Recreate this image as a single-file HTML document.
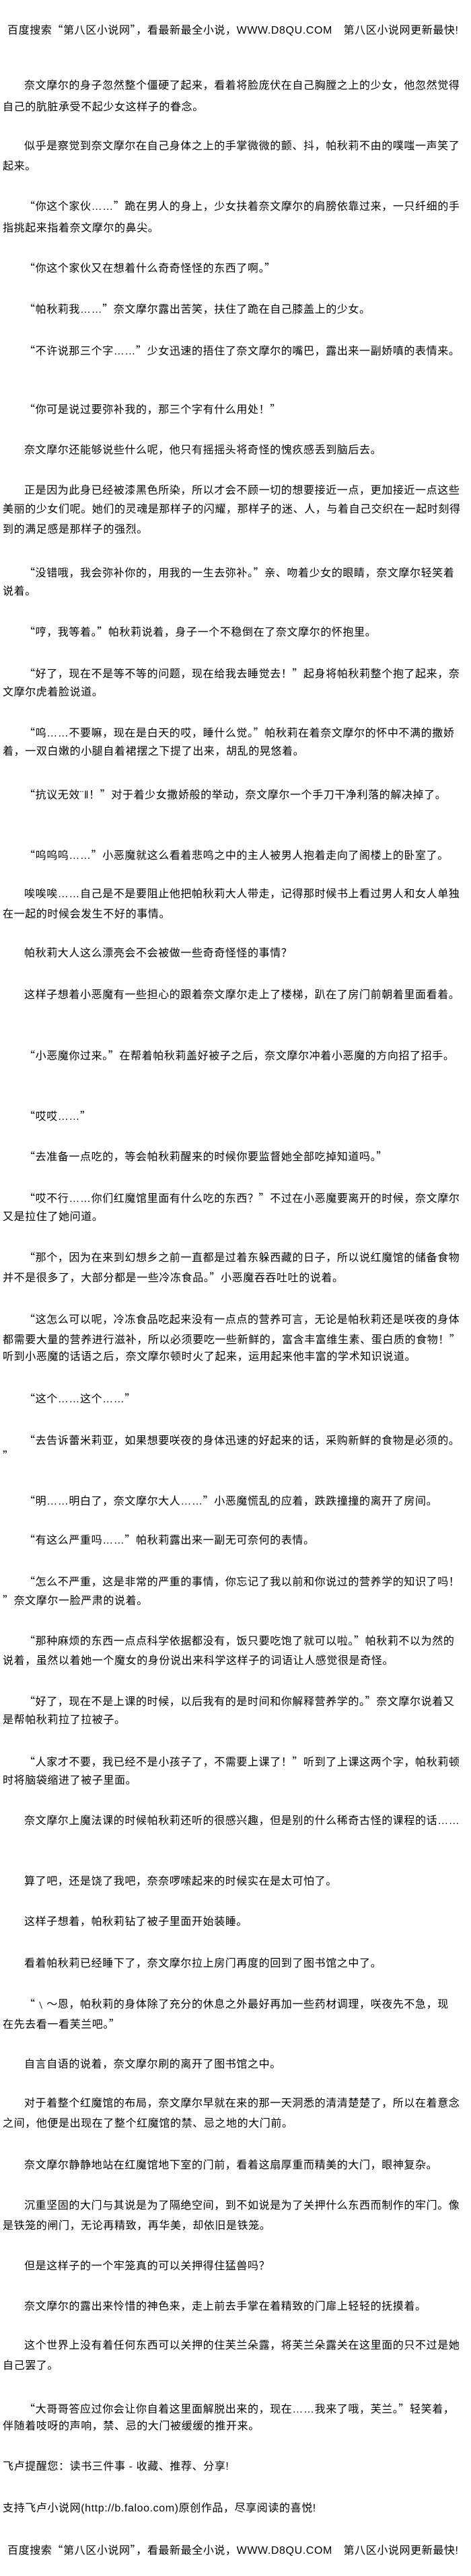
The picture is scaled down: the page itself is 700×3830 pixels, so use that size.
<!DOCTYPE html>
<html><head><meta charset="utf-8">
<style>
html,body{margin:0;padding:0;background:#fff;}
body{width:700px;height:3830px;position:relative;overflow:hidden;
font-family:"Liberation Sans","Noto Sans CJK SC","WenQuanYi Zen Hei",sans-serif;
font-size:16px;letter-spacing:0.6px;color:#000;}
div.l{position:absolute;white-space:nowrap;line-height:20px;height:20px;}
i{font-style:normal;font-family:"Noto Sans CJK SC",sans-serif;}
</style></head><body>
<div class="l" style="top:33px;left:11px">百度搜索<i>“</i>第八区小说网<i>”</i>，看最新最全小说，WWW.D8QU.COM　第八区小说网更新最快!</div>
<div class="l" style="top:118px;left:36px">奈文摩尔的身子忽然整个僵硬了起来，看着将脸庞伏在自己胸膛之上的少女，他忽然觉得</div>
<div class="l" style="top:150px;left:4px">自己的肮脏承受不起少女这样子的眷念。</div>
<div class="l" style="top:208px;left:36px">似乎是察觉到奈文摩尔在自己身体之上的手掌微微的颤、抖，帕秋莉不由的噗嗤一声笑了</div>
<div class="l" style="top:238px;left:4px">起来。</div>
<div class="l" style="top:295px;left:36px"><i>“</i>你这个家伙……<i>”</i>跪在男人的身上，少女扶着奈文摩尔的肩膀依靠过来，一只纤细的手</div>
<div class="l" style="top:330px;left:4px">指挑起来指着奈文摩尔的鼻尖。</div>
<div class="l" style="top:387px;left:36px"><i>“</i>你这个家伙又在想着什么奇奇怪怪的东西了啊。<i>”</i></div>
<div class="l" style="top:448px;left:36px"><i>“</i>帕秋莉我……<i>”</i>奈文摩尔露出苦笑，扶住了跪在自己膝盖上的少女。</div>
<div class="l" style="top:510px;left:36px"><i>“</i>不许说那三个字……<i>”</i>少女迅速的捂住了奈文摩尔的嘴巴，露出来一副娇嗔的表情来。</div>
<div class="l" style="top:597px;left:36px"><i>“</i>你可是说过要弥补我的，那三个字有什么用处！<i>”</i></div>
<div class="l" style="top:660px;left:36px">奈文摩尔还能够说些什么呢，他只有摇摇头将奇怪的愧疚感丢到脑后去。</div>
<div class="l" style="top:720px;left:36px">正是因为此身已经被漆黑色所染，所以才会不顾一切的想要接近一点，更加接近一点这些</div>
<div class="l" style="top:748px;left:4px">美丽的少女们呢。她们的灵魂是那样子的闪耀，那样子的迷、人，与着自己交织在一起时刻得</div>
<div class="l" style="top:778px;left:4px">到的满足感是那样子的强烈。</div>
<div class="l" style="top:840px;left:36px"><i>“</i>没错哦，我会弥补你的，用我的一生去弥补。<i>”</i>亲、吻着少女的眼睛，奈文摩尔轻笑着</div>
<div class="l" style="top:870px;left:4px">说着。</div>
<div class="l" style="top:928px;left:36px"><i>“</i>哼，我等着。<i>”</i>帕秋莉说着，身子一个不稳倒在了奈文摩尔的怀抱里。</div>
<div class="l" style="top:990px;left:36px"><i>“</i>好了，现在不是等不等的问题，现在给我去睡觉去！<i>”</i>起身将帕秋莉整个抱了起来，奈</div>
<div class="l" style="top:1020px;left:4px">文摩尔虎着脸说道。</div>
<div class="l" style="top:1078px;left:36px"><i>“</i>呜……不要嘛，现在是白天的哎，睡什么觉。<i>”</i>帕秋莉在着奈文摩尔的怀中不满的撒娇</div>
<div class="l" style="top:1108px;left:4px">着，一双白嫩的小腿自着裙摆之下提了出来，胡乱的晃悠着。</div>
<div class="l" style="top:1170px;left:36px"><i>“</i>抗议无效¨‖！<i>”</i>对于着少女撒娇般的举动，奈文摩尔一个手刀干净利落的解决掉了。</div>
<div class="l" style="top:1260px;left:36px"><i>“</i>呜呜呜……<i>”</i>小恶魔就这么看着悲鸣之中的主人被男人抱着走向了阁楼上的卧室了。</div>
<div class="l" style="top:1320px;left:36px">唉唉唉……自己是不是要阻止他把帕秋莉大人带走，记得那时候书上看过男人和女人单独</div>
<div class="l" style="top:1350px;left:4px">在一起的时候会发生不好的事情。</div>
<div class="l" style="top:1408px;left:36px">帕秋莉大人这么漂亮会不会被做一些奇奇怪怪的事情？</div>
<div class="l" style="top:1470px;left:36px">这样子想着小恶魔有一些担心的跟着奈文摩尔走上了楼梯，趴在了房门前朝着里面看着。</div>
<div class="l" style="top:1558px;left:36px"><i>“</i>小恶魔你过来。<i>”</i>在帮着帕秋莉盖好被子之后，奈文摩尔冲着小恶魔的方向招了招手。</div>
<div class="l" style="top:1648px;left:36px"><i>“</i>哎哎……<i>”</i></div>
<div class="l" style="top:1708px;left:36px"><i>“</i>去准备一点吃的，等会帕秋莉醒来的时候你要监督她全部吃掉知道吗。<i>”</i></div>
<div class="l" style="top:1770px;left:36px"><i>“</i>哎不行……你们红魔馆里面有什么吃的东西？<i>”</i>不过在小恶魔要离开的时候，奈文摩尔</div>
<div class="l" style="top:1800px;left:4px">又是拉住了她问道。</div>
<div class="l" style="top:1858px;left:36px"><i>“</i>那个，因为在来到幻想乡之前一直都是过着东躲西藏的日子，所以说红魔馆的储备食物</div>
<div class="l" style="top:1888px;left:4px">并不是很多了，大部分都是一些冷冻食品。<i>”</i>小恶魔吞吞吐吐的说着。</div>
<div class="l" style="top:1950px;left:36px"><i>“</i>这怎么可以呢，冷冻食品吃起来没有一点点的营养可言，无论是帕秋莉还是咲夜的身体</div>
<div class="l" style="top:1980px;left:4px">都需要大量的营养进行滋补，所以必须要吃一些新鲜的，富含丰富维生素、蛋白质的食物！<i>”</i></div>
<div class="l" style="top:2008px;left:4px">听到小恶魔的话语之后，奈文摩尔顿时火了起来，运用起来他丰富的学术知识说道。</div>
<div class="l" style="top:2068px;left:36px"><i>“</i>这个……这个……<i>”</i></div>
<div class="l" style="top:2130px;left:36px"><i>“</i>去告诉蕾米莉亚，如果想要咲夜的身体迅速的好起来的话，采购新鲜的食物是必须的。</div>
<div class="l" style="top:2153px;left:4px"><i>”</i></div>
<div class="l" style="top:2220px;left:36px"><i>“</i>明……明白了，奈文摩尔大人……<i>”</i>小恶魔慌乱的应着，跌跌撞撞的离开了房间。</div>
<div class="l" style="top:2278px;left:36px"><i>“</i>有这么严重吗……<i>”</i>帕秋莉露出来一副无可奈何的表情。</div>
<div class="l" style="top:2340px;left:36px"><i>“</i>怎么不严重，这是非常的严重的事情，你忘记了我以前和你说过的营养学的知识了吗！</div>
<div class="l" style="top:2368px;left:4px"><i>”</i>奈文摩尔一脸严肃的说着。</div>
<div class="l" style="top:2428px;left:36px"><i>“</i>那种麻烦的东西一点点科学依据都没有，饭只要吃饱了就可以啦。<i>”</i>帕秋莉不以为然的</div>
<div class="l" style="top:2460px;left:4px">说着，虽然以着她一个魔女的身份说出来科学这样子的词语让人感觉很是奇怪。</div>
<div class="l" style="top:2518px;left:36px"><i>“</i>好了，现在不是上课的时候，以后我有的是时间和你解释营养学的。<i>”</i>奈文摩尔说着又</div>
<div class="l" style="top:2548px;left:4px">是帮帕秋莉拉了拉被子。</div>
<div class="l" style="top:2608px;left:36px"><i>“</i>人家才不要，我已经不是小孩子了，不需要上课了！<i>”</i>听到了上课这两个字，帕秋莉顿</div>
<div class="l" style="top:2638px;left:4px">时将脑袋缩进了被子里面。</div>
<div class="l" style="top:2698px;left:36px">奈文摩尔上魔法课的时候帕秋莉还听的很感兴趣，但是别的什么稀奇古怪的课程的话……</div>
<div class="l" style="top:2788px;left:36px">算了吧，还是饶了我吧，奈奈啰嗦起来的时候实在是太可怕了。</div>
<div class="l" style="top:2848px;left:36px">这样子想着，帕秋莉钻了被子里面开始装睡。</div>
<div class="l" style="top:2910px;left:36px">看着帕秋莉已经睡下了，奈文摩尔拉上房门再度的回到了图书馆之中了。</div>
<div class="l" style="top:2968px;left:36px"><i>“</i>﹨～恩，帕秋莉的身体除了充分的休息之外最好再加一些药材调理，咲夜先不急，现</div>
<div class="l" style="top:2998px;left:4px">在先去看一看芙兰吧。<i>”</i></div>
<div class="l" style="top:3060px;left:36px">自言自语的说着，奈文摩尔刷的离开了图书馆之中。</div>
<div class="l" style="top:3118px;left:36px">对于着整个红魔馆的布局，奈文摩尔早就在来的那一天洞悉的清清楚楚了，所以在着意念</div>
<div class="l" style="top:3148px;left:4px">之间，他便是出现在了整个红魔馆的禁、忌之地的大门前。</div>
<div class="l" style="top:3210px;left:36px">奈文摩尔静静地站在红魔馆地下室的门前，看着这扇厚重而精美的大门，眼神复杂。</div>
<div class="l" style="top:3270px;left:36px">沉重坚固的大门与其说是为了隔绝空间，到不如说是为了关押什么东西而制作的牢门。像</div>
<div class="l" style="top:3300px;left:4px">是铁笼的闸门，无论再精致，再华美，却依旧是铁笼。</div>
<div class="l" style="top:3360px;left:36px">但是这样子的一个牢笼真的可以关押得住猛兽吗？</div>
<div class="l" style="top:3420px;left:36px">奈文摩尔的露出来怜惜的神色来，走上前去手掌在着精致的门扉上轻轻的抚摸着。</div>
<div class="l" style="top:3478px;left:36px">这个世界上没有着任何东西可以关押的住芙兰朵露，将芙兰朵露关在这里面的只不过是她</div>
<div class="l" style="top:3508px;left:4px">自己罢了。</div>
<div class="l" style="top:3570px;left:36px"><i>“</i>大哥哥答应过你会让你自着这里面解脱出来的，现在……我来了哦，芙兰。<i>”</i>轻笑着，</div>
<div class="l" style="top:3598px;left:4px">伴随着吱呀的声响，禁、忌的大门被缓缓的推开来。</div>
<div class="l" style="top:3658px;left:4px">飞卢提醒您：读书三件事 - 收藏、推荐、分享!</div>
<div class="l" style="top:3720px;left:4px">支持飞卢小说网(http://b.faloo.com)原创作品，尽享阅读的喜悦!</div>
<div class="l" style="top:3780px;left:11px">百度搜索<i>“</i>第八区小说网<i>”</i>，看最新最全小说，WWW.D8QU.COM　第八区小说网更新最快!</div>
</body></html>
